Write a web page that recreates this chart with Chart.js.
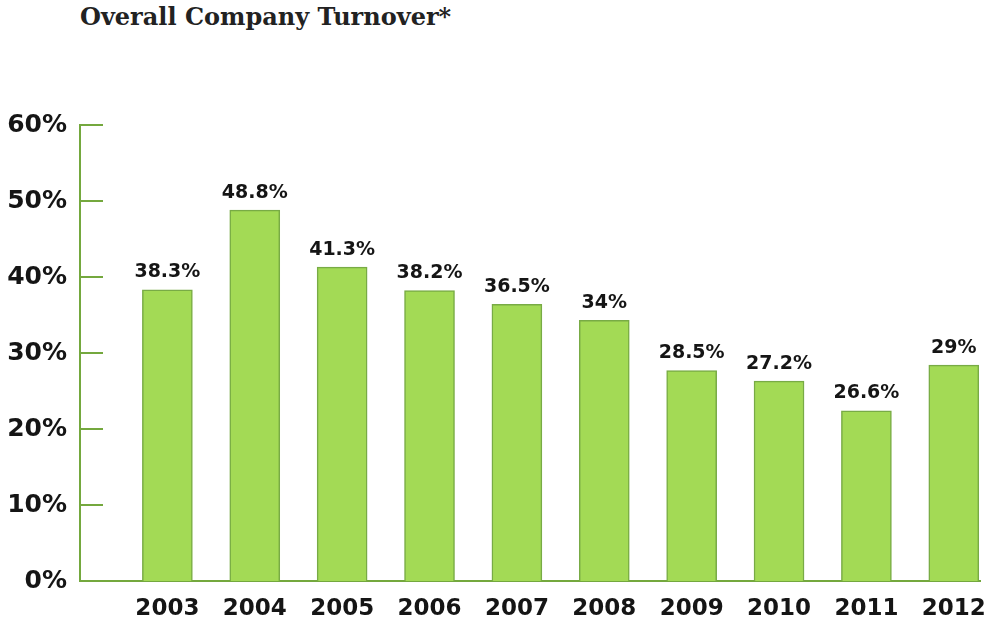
<!DOCTYPE html>
<html lang="en">
<head>
  <meta charset="UTF-8" />
  <title>Overall Company Turnover</title>
  <script src="https://cdn.jsdelivr.net/npm/chart.js"></script>
  <style>
    body {
      margin: 0;
      background: #fff;
    }
    .wrap {
      position: relative;
      width: 988px;
      height: 625px;
    }
    #title {
      position: absolute;
      left: 80px;
      top: 2px;
      font-family: "DejaVu Serif", serif;
      font-weight: bold;
      font-size: 24px;
      color: #222;
    }
    canvas {
      position: absolute;
      left: 0;
      top: 0;
    }
  </style>
</head>
<body>
  <div class="wrap">
    <div id="title">Overall Company Turnover*</div>
    <canvas id="turnoverChart" width="988" height="625"></canvas>
  </div>

  <script>
    const years = [2003, 2004, 2005, 2006, 2007, 2008, 2009, 2010, 2011, 2012];
    // bar heights as drawn (the printed labels don't always match them)
    const barValues = [38.3, 48.8, 41.3, 38.2, 36.4, 34.3, 27.7, 26.3, 22.4, 28.4];
    const labelTexts = ["38.3%", "48.8%", "41.3%", "38.2%", "36.5%", "34%", "28.5%", "27.2%", "26.6%", "29%"];
    const yTicks = [0, 10, 20, 30, 40, 50, 60];

    const axisGreen = "#74a83e";
    const textColor = "#151515";

    // short tick marks pointing into the plot from the y axis
    const innerTicks = {
      id: "innerTicks",
      afterDraw(chart) {
        const ctx = chart.ctx;
        const y = chart.scales.y;
        const left = chart.chartArea.left;
        ctx.save();
        ctx.strokeStyle = axisGreen;
        ctx.lineWidth = 2;
        yTicks.forEach(v => {
          if (v === 0) return;
          const py = Math.round(y.getPixelForValue(v));
          ctx.beginPath();
          ctx.moveTo(left, py);
          ctx.lineTo(left + 23, py);
          ctx.stroke();
        });
        ctx.restore();
      }
    };

    const barLabels = {
      id: "barLabels",
      afterDatasetsDraw(chart) {
        const ctx = chart.ctx;
        const meta = chart.getDatasetMeta(0);
        ctx.save();
        ctx.font = "bold 19px 'DejaVu Sans'";
        ctx.fillStyle = textColor;
        ctx.textAlign = "center";
        ctx.textBaseline = "bottom";
        meta.data.forEach((bar, i) => {
          ctx.fillText(labelTexts[i], bar.x, bar.y - 8);
        });
        ctx.restore();
      }
    };

    const ctx = document.getElementById("turnoverChart").getContext("2d");
    new Chart(ctx, {
      type: "bar",
      data: {
        datasets: [{
          data: years.map((yr, i) => ({ x: yr, y: barValues[i] })),
          backgroundColor: "#a3da55",
          borderColor: "#78ab45",
          borderWidth: 1.5,
          barThickness: 50
        }]
      },
      options: {
        responsive: false,
        animation: false,
        layout: { padding: { top: 125, right: 7, left: 0, bottom: 0 } },
        plugins: {
          legend: { display: false },
          tooltip: { enabled: false }
        },
        scales: {
          x: {
            type: "linear",
            min: 2002,
            max: 2012.3,
            offset: false,
            grid: { display: false, drawTicks: false },
            border: { display: true, color: axisGreen, width: 2 },
            ticks: {
              stepSize: 1,
              includeBounds: false,
              autoSkip: false,
              maxRotation: 0,
              padding: 2,
              color: textColor,
              font: { family: "DejaVu Sans", weight: "bold", size: 23, lineHeight: 2.3 },
              callback: v => (years.includes(v) ? String(v) : "")
            },
            afterFit: s => { s.height = 44; }
          },
          y: {
            min: 0,
            max: 60,
            grid: { display: false, drawTicks: false },
            border: { display: true, color: axisGreen, width: 2 },
            ticks: {
              stepSize: 10,
              padding: 13,
              color: textColor,
              font: { family: "DejaVu Sans", weight: "bold", size: 25 },
              callback: v => v + "%"
            },
            afterFit: s => { s.width = 80; }
          }
        }
      },
      plugins: [innerTicks, barLabels]
    });
  </script>
</body>
</html>
